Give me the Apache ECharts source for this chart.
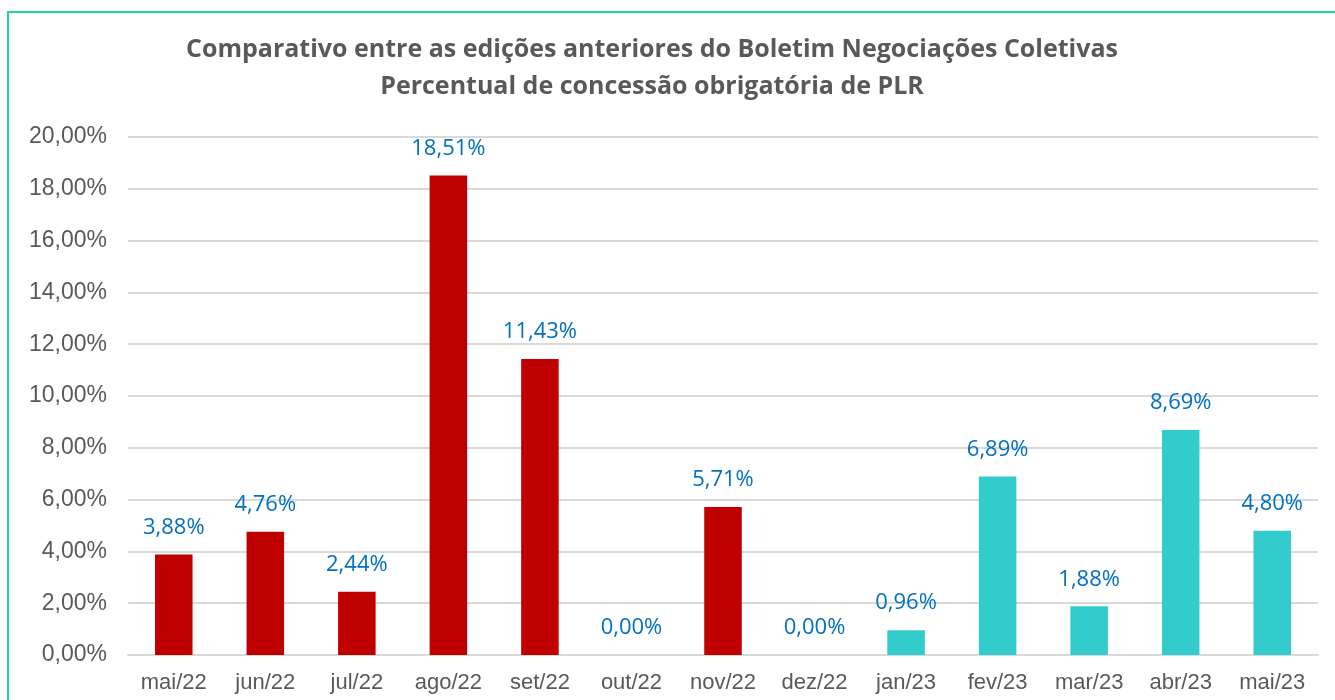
<!DOCTYPE html>
<html>
<head>
<meta charset="utf-8">
<script src="https://cdn.jsdelivr.net/npm/echarts@6/dist/echarts.min.js"></script>
<style>
  html, body { margin: 0; padding: 0; background: #fff; }
  #chart { width: 1335px; height: 700px; }
</style>
</head>
<body>
<div id="chart"></div>
<script>
const months = ["mai/22", "jun/22", "jul/22", "ago/22", "set/22", "out/22", "nov/22",
  "dez/22", "jan/23", "fev/23", "mar/23", "abr/23", "mai/23"];
const plrPct = [3.88, 4.76, 2.44, 18.51, 11.43, 0.00, 5.71, 0.00, 0.96, 6.89, 1.88, 8.69, 4.80];
// 2022 editions red, 2023 editions teal
const barColors = ["#C00000", "#C00000", "#C00000", "#C00000", "#C00000", "#C00000", "#C00000",
  "#C00000", "#33CCCC", "#33CCCC", "#33CCCC", "#33CCCC", "#33CCCC"];

const pct = (v) => v.toFixed(2).replace(".", ",") + "%";
const AXIS_FONT = '"Liberation Sans", Arial, sans-serif';
const LABEL_FONT = '"Open Sans", "Noto Sans", sans-serif';

const chart = echarts.init(document.getElementById("chart"), null, { renderer: "canvas" });
chart.setOption({
  backgroundColor: "#fff",
  animation: false,
  title: {
    text: "Comparativo entre as edições anteriores do Boletim Negociações Coletivas\nPercentual de concessão obrigatória de PLR",
    left: 647,
    top: 26,
    textAlign: "center",
    textStyle: {
      color: "#595959",
      fontSize: 25,
      fontWeight: "bold",
      fontFamily: LABEL_FONT,
      lineHeight: 37,
    },
  },
  graphic: [
    {
      type: "rect",
      silent: true,
      shape: { x: 8, y: 12, width: 1400, height: 800 },
      style: { fill: "none", stroke: "#22D3A4", lineWidth: 2 },
    },
  ],
  grid: { left: 128, right: 17, top: 137, bottom: 45, containLabel: false },
  xAxis: {
    type: "category",
    data: months,
    axisLine: { show: true, lineStyle: { color: "#D9D9D9", width: 2 } },
    axisTick: { show: false },
    axisLabel: {
      color: "#595959", fontSize: 22, fontFamily: AXIS_FONT, margin: 17,
      interval: 0, hideOverlap: false,
    },
  },
  yAxis: {
    type: "value",
    min: 0,
    max: 20,
    interval: 2,
    axisLine: { show: false },
    axisTick: { show: false },
    axisLabel: { color: "#595959", fontSize: 23, fontFamily: AXIS_FONT, margin: 21, formatter: pct },
    splitLine: { lineStyle: { color: "#D9D9D9", width: 2 } },
  },
  series: [
    {
      type: "bar",
      data: plrPct.map((v, i) => ({ value: v, itemStyle: { color: barColors[i] } })),
      barWidth: "41%",
      label: {
        show: true,
        position: "top",
        distance: 16,
        color: "#0070C0",
        fontSize: 22,
        fontFamily: LABEL_FONT,
        formatter: (p) => pct(p.value),
      },
    },
  ],
});
</script>
</body>
</html>
